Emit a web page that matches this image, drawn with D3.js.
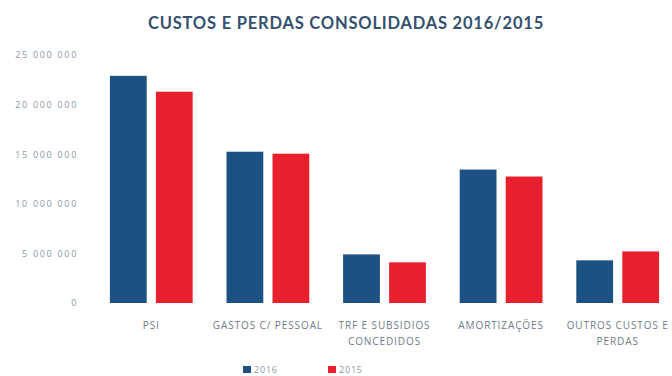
<!DOCTYPE html>
<html><head><meta charset="utf-8">
<script src="https://cdn.jsdelivr.net/npm/d3@7"></script>
<style>body{margin:0;background:#fff}svg{display:block}</style>
</head><body>
<script>
const categories = [["PSI"], ["GASTOS C/ PESSOAL"], ["TRF E SUBSIDIOS", "CONCEDIDOS"], ["AMORTIZAÇÕES"], ["OUTROS CUSTOS E", "PERDAS"]];
const seriesNames = ["2016", "2015"];
const values2016 = [22900000, 15250000, 4900000, 13450000, 4300000];
const values2015 = [21300000, 15050000, 4100000, 12750000, 5200000];
const yTicks = [0, 5000000, 10000000, 15000000, 20000000, 25000000];
const colors = ["#1c5183", "#e8202e"];

const W = 672, H = 376;
const svg = d3.select("body").append("svg").attr("width", W).attr("height", H);

const x0 = d3.scaleBand().domain(d3.range(categories.length)).range([93, 676]).paddingInner(0.29).paddingOuter(0.145);
const x1 = d3.scaleBand().domain(seriesNames).range([0, x0.bandwidth()]).paddingInner(0.2);
const y = d3.scaleLinear().domain([0, 25000000]).range([303, 55]);

svg.append("text").attr("x", 346).attr("y", 29).attr("text-anchor", "middle")
  .attr("font-family", "Lato, 'Open Sans', sans-serif").attr("font-weight", "bold").attr("font-size", 16.5)
  .attr("letter-spacing", 0.8)
  .attr("fill", "#34506e").text("CUSTOS E PERDAS CONSOLIDADAS  2016/2015");

const fmt = v => d3.format(",")(v).replace(/,/g, " ");
const yAxis = svg.append("g").attr("transform", "translate(80,0)")
  .call(d3.axisLeft(y).tickValues(yTicks).tickFormat(fmt).tickSize(0).tickPadding(2));
yAxis.select(".domain").remove();
yAxis.selectAll("text").attr("font-family", "'Open Sans', sans-serif").attr("font-size", 9)
  .attr("letter-spacing", 1.7).attr("fill", "#8a96a8");

const data = [values2016, values2015];
const g = svg.append("g");
categories.forEach((c, i) => {
  seriesNames.forEach((s, j) => {
    const v = data[j][i];
    g.append("rect").attr("x", x0(i) + x1(s)).attr("y", y(v))
      .attr("width", x1.bandwidth()).attr("height", y(0) - y(v)).attr("fill", colors[j]);
  });
});

const xAxis = svg.append("g").attr("transform", "translate(0,303)")
  .call(d3.axisBottom(x0).tickSize(0).tickFormat(() => ""));
xAxis.select(".domain").remove();
xAxis.selectAll(".tick").each(function(d) {
  const t = d3.select(this).append("text").attr("text-anchor", "middle")
    .attr("font-family", "'Open Sans', sans-serif").attr("font-size", 10).attr("letter-spacing", 0.9)
    .attr("fill", "#6f7b8c");
  categories[d].forEach((line, k) => {
    t.append("tspan").attr("x", 0).attr("y", 26 + k * 16).text(line);
  });
});

const legend = svg.append("g");
const lx = [243, 328];
seriesNames.forEach((s, j) => {
  legend.append("rect").attr("x", lx[j]).attr("y", 366).attr("width", 8).attr("height", 7).attr("fill", colors[j]);
  legend.append("text").attr("x", lx[j] + 11).attr("y", 373)
    .attr("font-family", "'Open Sans', sans-serif").attr("font-size", 9).attr("letter-spacing", 0.8)
    .attr("fill", "#8a96a8").text(s);
});
</script>
</body></html>
